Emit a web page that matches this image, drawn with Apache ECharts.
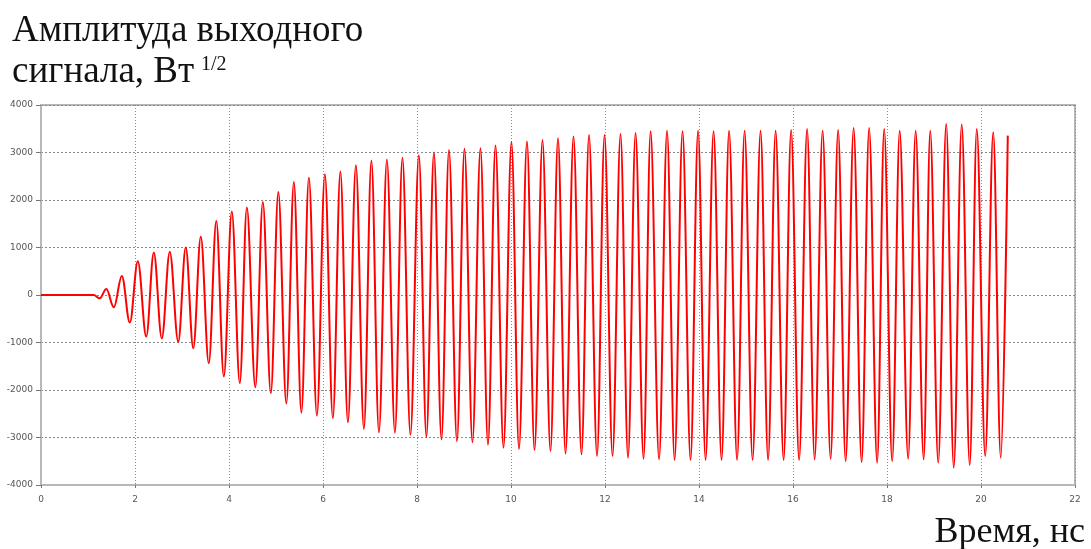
<!DOCTYPE html>
<html>
<head>
<meta charset="utf-8">
<script src="https://cdn.jsdelivr.net/npm/echarts@6/dist/echarts.min.js"></script>
<style>
  html, body { margin: 0; padding: 0; background: #fff; }
  #chart { width: 1091px; height: 549px; }
</style>
</head>
<body>
<div id="chart"></div>
<script>
// Output signal amplitude vs. time: the extrema (peaks and troughs) of the oscillation
const timeNs = [
  0, 1.12, 1.25, 1.39, 1.55, 1.72, 1.89, 2.06, 2.24, 2.40, 2.57, 2.74, 2.92, 3.08, 3.24, 3.40,
  3.57, 3.73, 3.89, 4.06, 4.23, 4.38, 4.56, 4.72, 4.89, 5.05, 5.22, 5.38, 5.54, 5.70, 5.87,
  6.04, 6.21, 6.37, 6.53, 6.70, 6.87, 7.03, 7.19, 7.36, 7.53, 7.69, 7.86, 8.04, 8.20, 8.36,
  8.52, 8.68, 8.85, 9.01, 9.18, 9.35, 9.51, 9.67, 9.84, 10.01, 10.17, 10.34, 10.50, 10.67,
  10.84, 11.00, 11.16, 11.33, 11.50, 11.66, 11.83, 11.99, 12.16, 12.33, 12.49, 12.65, 12.82,
  12.97, 13.15, 13.32, 13.48, 13.65, 13.82, 13.98, 14.14, 14.31, 14.48, 14.64, 14.81, 14.97,
  15.14, 15.31, 15.47, 15.63, 15.80, 15.96, 16.13, 16.30, 16.46, 16.63, 16.80, 16.96, 17.12,
  17.29, 17.46, 17.62, 17.79, 17.94, 18.11, 18.27, 18.45, 18.61, 18.78, 18.92, 19.09, 19.26,
  19.42, 19.59, 19.76, 19.91, 20.09, 20.26, 20.42, 20.57
];
const amplitude = [
  0, 0, -70, 125, -260, 400, -580, 710, -875, 895, -915, 910, -985, 1000, -1120, 1225,
  -1435, 1560, -1715, 1760, -1855, 1840, -1940, 1960, -2065, 2170, -2285, 2380, -2480, 2470, -2540,
  2540, -2590, 2600, -2680, 2730, -2820, 2830, -2890, 2850, -2900, 2890, -2940, 2940, -2985, 3000,
  -3040, 3055, -3080, 3080, -3100, 3090, -3150, 3150, -3215, 3220, -3240, 3230, -3265, 3265,
  -3285, 3300, -3335, 3335, -3355, 3370, -3390, 3370, -3390, 3390, -3425, 3410, -3450,
  3450, -3460, 3460, -3475, 3450, -3475, 3460, -3475, 3450, -3475, 3460, -3475, 3460,
  -3475, 3460, -3475, 3460, -3475, 3475, -3475, 3495, -3460, 3460, -3450, 3475, -3500,
  3515, -3520, 3515, -3530, 3495, -3500, 3460, -3450, 3460, -3460, 3460, -3530, 3600,
  -3635, 3590, -3580, 3495, -3390, 3425, -3425, 3355
];

const yTitleLines = ['Амплитуда выходного', 'сигнала, Вт'];
const yTitleSup = '1/2';
const xTitle = 'Время, нс';

const points = timeNs.map((t, i) => [t, amplitude[i]]);

const axisGray = '#b8b8b8';
const gridGray = '#8a8a8a';
const labelFont = { fontFamily: 'DejaVu Sans', fontSize: 9, color: '#555' };
const titleFont = '"Liberation Serif", "Times New Roman", serif';

const chart = echarts.init(document.getElementById('chart'), null, { renderer: 'canvas' });
chart.setOption({
  animation: false,
  backgroundColor: '#fff',
  grid: {
    left: 41, right: 16, top: 105, bottom: 64,
    show: true, borderColor: axisGray, borderWidth: 2, backgroundColor: 'transparent'
  },
  xAxis: {
    type: 'value', min: 0, max: 22, interval: 2,
    axisLine: { show: true, onZero: false, lineStyle: { color: axisGray, width: 2 } },
    axisTick: { show: true, length: 3, lineStyle: { color: '#777' } },
    axisLabel: Object.assign({ margin: 10, formatter: v => String(v) }, labelFont),
    splitLine: { show: true, lineStyle: { color: gridGray, type: [1, 2], width: 1 } }
  },
  yAxis: {
    type: 'value', min: -4000, max: 4000, interval: 1000,
    axisLine: { show: true, onZero: false, lineStyle: { color: axisGray, width: 2 } },
    axisTick: { show: true, length: 5, lineStyle: { color: '#777' } },
    axisLabel: Object.assign({ margin: 8, formatter: v => String(v) }, labelFont),
    splitLine: { show: true, lineStyle: { color: gridGray, type: [2, 2], width: 1 } }
  },
  series: [{
    type: 'line',
    data: points,
    showSymbol: false,
    smooth: 0.36,
    smoothMonotone: 'x',
    lineStyle: { color: '#ff0000', width: 2 },
    z: 3
  }],
  graphic: [
    { type: 'text', left: 12, top: 13,
      style: { text: yTitleLines[0], font: '37px ' + titleFont, fill: '#111' } },
    { type: 'text', left: 12, top: 54,
      style: { text: yTitleLines[1], font: '37px ' + titleFont, fill: '#111' } },
    { type: 'text', left: 201, top: 55,
      style: { text: yTitleSup, font: '20px ' + titleFont, fill: '#111' } },
    { type: 'text', right: 6, top: 515,
      style: { text: xTitle, font: '36px ' + titleFont, fill: '#111' } }
  ]
});
</script>
</body>
</html>
